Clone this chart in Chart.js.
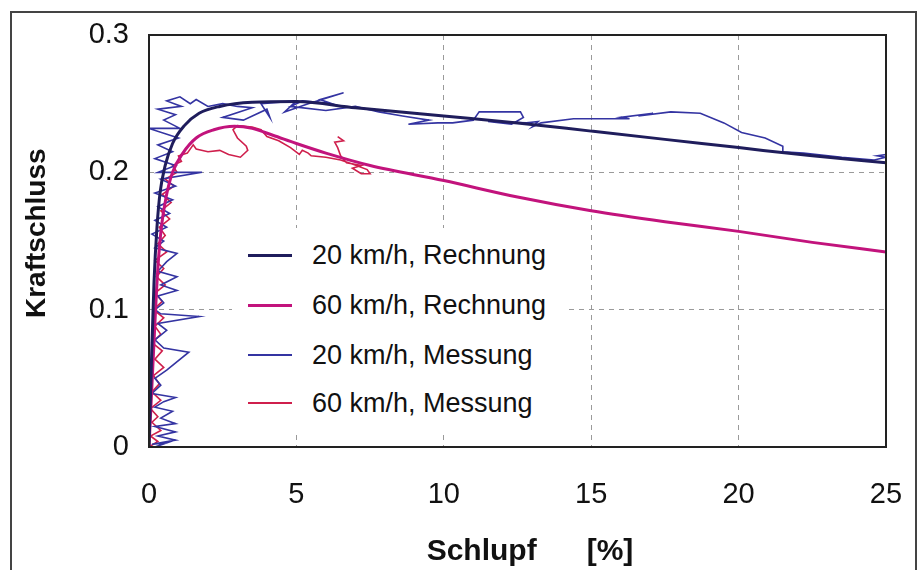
<!DOCTYPE html>
<html>
<head>
<meta charset="utf-8">
<script src="https://cdn.jsdelivr.net/npm/chart.js@4.4.1/dist/chart.umd.min.js"></script>
<style>
  html, body { margin: 0; padding: 0; background: #fff; overflow: hidden; }
  #wrap { position: relative; width: 922px; height: 570px; }
  #frame { position: absolute; left: 10px; top: 11px; width: 903px; height: 600px;
           border: 2px solid #444; border-bottom: none; pointer-events: none; }
  #legend { position: absolute; left: 232px; top: 228px; width: 333px; height: 204px; background: #fff; }
  .row { position: absolute; left: 0; height: 32px; }
  .swatch { position: absolute; left: 16px; width: 44px; }
  .label { position: absolute; left: 80px; white-space: nowrap;
           font: 27px "Liberation Sans", Arial, sans-serif; color: #111; }
</style>
</head>
<body>
<div id="wrap">
  <canvas id="chart" width="922" height="570"></canvas>
  <div id="legend"></div>
  <div id="frame"></div>
</div>
<script>
// axis ticks
const xTickValues = [0, 5, 10, 15, 20, 25];
const yTickLabels = ['0', '0.1', '0.2', '0.3'];

// legend entries, same order as in the picture
const seriesLabels = ['20 km/h, Rechnung', '60 km/h, Rechnung', '20 km/h, Messung', '60 km/h, Messung'];
const seriesColors = ['#1f1d5c', '#c2137c', '#3434a2', '#cf1f4c'];
const seriesWidths = [3, 3, 1.6, 1.6];

// Rechnung 20 km/h  [Schlupf %, Kraftschluss]
const calc20 = [
  [0, 0], [0.08, 0.06], [0.17, 0.12], [0.27, 0.16], [0.38, 0.186], [0.55, 0.205],
  [0.8, 0.221], [1.2, 0.234], [1.7, 0.243], [2.4, 0.248], [3.5, 0.251], [5, 0.2515],
  [7, 0.247], [10, 0.241], [12.5, 0.236], [15, 0.23], [17.5, 0.224], [20, 0.218],
  [22.5, 0.212], [25, 0.207]
];

// Rechnung 60 km/h
const calc60 = [
  [0, 0], [0.1, 0.045], [0.2, 0.09], [0.3, 0.13], [0.42, 0.16], [0.58, 0.182],
  [0.8, 0.2], [1.15, 0.214], [1.6, 0.225], [2.2, 0.231], [2.9, 0.2335], [3.5, 0.232],
  [4.2, 0.227], [5, 0.221], [6, 0.214], [7.5, 0.205], [10, 0.194], [12.5, 0.182],
  [15, 0.172], [17.5, 0.164], [20, 0.157], [22.5, 0.149], [25, 0.142]
];

// Messung 20 km/h
const meas20 = [
  [0.2, 0], [0.6, 0.003], [0.1, 0.002], [0.9, 0.005], [0.3, 0.008], [0.9, 0.011],
  [0.2, 0.015], [0.9, 0.017], [0.4, 0.021], [0.8, 0.026], [0.2, 0.029], [0.5, 0.033],
  [0.9, 0.036], [0.1, 0.039], [0.4, 0.045], [0.2, 0.05], [0.6, 0.056], [1.35, 0.069],
  [0.5, 0.072], [0.2, 0.078], [0.6, 0.085], [0.3, 0.09], [1.7, 0.095], [0.4, 0.097],
  [0.2, 0.1], [0.5, 0.105], [0.3, 0.11], [0.95, 0.114], [0.4, 0.118], [0.95, 0.124],
  [0.3, 0.128], [0.6, 0.135], [0.95, 0.141], [0.2, 0.145], [0.5, 0.15], [0.1, 0.155],
  [0.6, 0.16], [0.2, 0.165], [0.7, 0.17], [0.3, 0.175], [0.8, 0.18], [0.2, 0.185],
  [0.9, 0.19], [0.4, 0.195], [1.8, 0.2], [0.3, 0.2], [0.9, 0.205], [0.2, 0.21],
  [0.8, 0.215], [0.3, 0.22], [1.0, 0.225], [0.0, 0.232], [1.05, 0.232], [0.5, 0.238],
  [0.9, 0.242], [0.3, 0.246], [1.1, 0.248], [0.6, 0.252], [1.05, 0.255], [1.4, 0.25],
  [1.6, 0.253], [2.0, 0.248], [2.5, 0.25], [3.0, 0.248], [3.5, 0.247], [2.5, 0.24],
  [3.2, 0.238], [4.0, 0.246], [4.1, 0.24], [3.8, 0.25], [5.0, 0.252], [4.6, 0.244],
  [5.4, 0.25], [6.6, 0.258], [5.8, 0.253], [6.2, 0.25], [5.2, 0.252], [4.8, 0.248],
  [6.0, 0.245], [7.0, 0.248], [7.8, 0.244], [8.6, 0.241], [9.5, 0.238], [8.8, 0.235],
  [9.8, 0.236], [10.3, 0.236], [11.0, 0.238], [11.2, 0.244], [12.6, 0.244], [12.7, 0.24],
  [12.3, 0.235], [11.5, 0.237], [12.8, 0.236], [13.2, 0.237], [13.0, 0.233], [13.3, 0.236],
  [14.4, 0.239], [16.3, 0.239], [16.0, 0.24], [17.1, 0.243], [16.6, 0.241], [17.7, 0.244],
  [18.7, 0.243], [19.5, 0.236], [20.1, 0.229], [20.9, 0.225], [21.5, 0.219], [21.5, 0.215],
  [22.2, 0.214], [23.5, 0.211], [24.6, 0.209], [25.0, 0.211], [24.7, 0.212], [25.0, 0.213]
];

// Messung 60 km/h
const meas60 = [
  [0.0, 0], [0.3, 0.004], [0.05, 0.008], [0.4, 0.012], [0.1, 0.018], [0.3, 0.022],
  [0.05, 0.028], [0.4, 0.034], [0.1, 0.04], [0.35, 0.046], [0.15, 0.052], [0.5, 0.058],
  [0.2, 0.064], [0.45, 0.07], [0.1, 0.076], [0.4, 0.082], [0.2, 0.088], [0.5, 0.094],
  [0.15, 0.1], [0.45, 0.106], [0.2, 0.112], [0.55, 0.118], [0.25, 0.124], [0.5, 0.13],
  [0.2, 0.136], [0.6, 0.142], [0.3, 0.148], [0.55, 0.154], [0.35, 0.16], [0.7, 0.166],
  [0.4, 0.172], [0.75, 0.178], [0.45, 0.184], [0.85, 0.19], [0.55, 0.195], [0.95, 0.2],
  [0.8, 0.205], [1.1, 0.208], [1.0, 0.212], [1.3, 0.214], [1.5, 0.22], [1.6, 0.217],
  [2.0, 0.215], [2.4, 0.216], [2.7, 0.213], [3.1, 0.211], [3.35, 0.216], [3.3, 0.219],
  [3.0, 0.225], [2.85, 0.231], [3.0, 0.234], [3.5, 0.233], [3.8, 0.231], [4.0, 0.226],
  [4.4, 0.223], [4.8, 0.218], [5.1, 0.213], [5.2, 0.216], [5.4, 0.214], [5.5, 0.212],
  [6.0, 0.211], [6.5, 0.209], [6.9, 0.206], [7.4, 0.202], [7.5, 0.199], [7.2, 0.199],
  [6.9, 0.203], [7.2, 0.205], [6.7, 0.207], [6.5, 0.212], [6.4, 0.218], [6.3, 0.222],
  [6.6, 0.223], [6.4, 0.226]
];

const seriesData = [calc20, calc60, meas20, meas60];

function toPoints(list) {
    return list.map(p => ({ x: p[0], y: p[1] }));
}

// legend box drawn as html on top of the plot (it hides the grid lines behind it)
const legendBox = document.getElementById('legend');
const rowCenters = [27, 77, 127, 175];
seriesLabels.forEach((label, i) => {
    const row = document.createElement('div');
    row.className = 'row';
    row.style.top = (rowCenters[i] - 16) + 'px';
    row.style.width = '333px';
    const sw = document.createElement('div');
    sw.className = 'swatch';
    sw.style.height = seriesWidths[i] + 'px';
    sw.style.top = (16 - seriesWidths[i] / 2) + 'px';
    sw.style.background = seriesColors[i];
    const tx = document.createElement('div');
    tx.className = 'label';
    tx.style.top = '0px';
    tx.style.lineHeight = '32px';
    tx.textContent = label;
    row.appendChild(sw);
    row.appendChild(tx);
    legendBox.appendChild(row);
});

// solid box around the plot area
const plotBox = {
    id: 'plotBox',
    afterDatasetsDraw(chart) {
        const { ctx, chartArea } = chart;
        ctx.save();
        ctx.strokeStyle = '#222';
        ctx.lineWidth = 2;
        ctx.strokeRect(chartArea.left, chartArea.top, chartArea.right - chartArea.left, chartArea.bottom - chartArea.top);
        ctx.restore();
    }
};

const gridColor = (edgeA, edgeB) => (c) => {
    const v = c.tick.value;
    return (Math.abs(v - edgeA) < 1e-6 || Math.abs(v - edgeB) < 1e-6) ? 'rgba(0,0,0,0)' : '#9a9a9a';
};

const datasets = seriesData.map((d, i) => ({
    label: seriesLabels[i],
    data: toPoints(d),
    showLine: true,
    borderColor: seriesColors[i],
    backgroundColor: seriesColors[i],
    borderWidth: seriesWidths[i],
    pointRadius: 0,
    pointHoverRadius: 0,
    fill: false,
    tension: i < 2 ? 0.4 : 0,
    cubicInterpolationMode: i < 2 ? 'monotone' : 'default',
    order: i < 2 ? 1 : 2
}));

const tickFont = { family: '"Liberation Sans", Arial, sans-serif', size: 29 };

new Chart(document.getElementById('chart'), {
    type: 'scatter',
    data: { datasets: datasets },
    options: {
        responsive: false,
        animation: false,
        events: [],
        layout: { padding: { top: 35, right: 36, left: 0, bottom: 0 } },
        plugins: {
            legend: { display: false },
            tooltip: { enabled: false }
        },
        scales: {
            x: {
                type: 'linear',
                min: 0,
                max: 25,
                afterBuildTicks: (axis) => { axis.ticks = xTickValues.map(v => ({ value: v })); },
                afterFit: (axis) => {
                    axis.height = 123;
                    // no extra room for the outer tick labels, the plot keeps its size
                    axis.paddingLeft = 0;
                    axis.paddingRight = 0;
                },
                ticks: {
                    color: '#111',
                    padding: 31,
                    font: tickFont
                },
                grid: { color: gridColor(0, 25), lineWidth: 1, drawTicks: false },
                border: { display: false, dash: [5, 5] },
                title: {
                    display: true,
                    text: '   Schlupf      [%]',
                    color: '#111',
                    padding: { top: 0, bottom: 0 },
                    font: { family: '"Liberation Sans", Arial, sans-serif', size: 30, weight: 'bold' }
                }
            },
            y: {
                type: 'linear',
                min: 0,
                max: 0.3,
                afterBuildTicks: (axis) => { axis.ticks = yTickLabels.map(t => ({ value: parseFloat(t) })); },
                afterFit: (axis) => {
                    axis.width = 149;
                    axis.paddingTop = 0;
                    axis.paddingBottom = 0;
                },
                ticks: {
                    color: '#111',
                    padding: 20,
                    font: tickFont,
                    callback: (value, index) => yTickLabels[index]
                },
                grid: { color: gridColor(0, 0.3), lineWidth: 1, drawTicks: false },
                border: { display: false, dash: [5, 5] },
                title: {
                    display: true,
                    text: '  Kraftschluss',
                    color: '#111',
                    padding: { top: 20, bottom: 0 },
                    font: { family: '"Liberation Sans", Arial, sans-serif', size: 28, weight: 'bold' }
                }
            }
        }
    },
    plugins: [plotBox]
});
</script>
</body>
</html>
